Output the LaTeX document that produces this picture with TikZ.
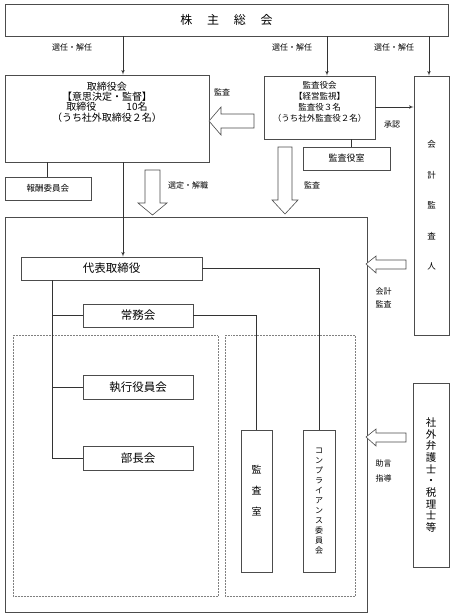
\documentclass[tikz,border=0pt]{standalone}
\usepackage{fontspec}
\setmainfont{Noto Sans CJK JP}
\usetikzlibrary{arrows}
\tikzset{
>=latex', % small filled arrow heads
box/.style={draw=black!70, line width=0.6pt, fill=white, inner sep=0pt}, % frame of each body
lbl/.style={font=\fontsize{8}{10}\selectfont, inner sep=0pt}, % small texts beside the lines
link/.style={draw=black!80, line width=0.6pt}, % lines between the bodies
hollow/.style={draw=black!70, line width=0.6pt, fill=white}, % open block arrows
area/.style={draw=black!50, line width=0.5pt, densely dotted}, % dotted groups
}

\begin{document}
\begin{tikzpicture}[x=1pt, y=-1pt]
        \useasboundingbox (0,0) rectangle (454,616);

        % frames of the company
        \draw[box] (5,217) rectangle (367,612);
        \draw[area] (13,335) rectangle (218,596);
        \draw[area] (225,335) rectangle (355,596);

        \node[box, minimum width=443, minimum height=32, font=\fontsize{12}{14}\selectfont] (soukai) at (226.5,20) {株\hspace{14.7pt}主\hspace{14.7pt}総\hspace{14.7pt}会};
        \node[box, minimum width=204, minimum height=87] (torikai) at (107,118.5) {};
        \node[align=center, inner sep=0pt, font=\fontsize{10}{10.2}\selectfont] (torikaitext) at (107,102) {取締役会\\【意思決定・監督】\\取締役\hspace{30pt}10名\\（うち社外取締役２名）};
        \node[box, minimum width=86, minimum height=23, font=\fontsize{8.5}{10}\selectfont] (housyu) at (48,188.5) {報酬委員会};
        \node[box, minimum width=111, minimum height=63] (kansakai) at (319.5,107.5) {};
        \node[align=center, inner sep=0pt, font=\fontsize{8.5}{11}\selectfont] (kansakaitext) at (319.5,101.5) {監査役会\\【経営監視】\\監査役３名\\（うち社外監査役２名）};
        \node[box, minimum width=87, minimum height=23, font=\fontsize{9}{10}\selectfont] (kansastaff) at (346.5,158.5) {監査役室};
        \node[box, minimum width=35, minimum height=259, align=center, font=\fontsize{8.5}{30.5}\selectfont] (kaikei) at (431.5,205.5) {会\\計\\監\\査\\人};
        \node[box, minimum width=36, minimum height=184, align=center, font=\fontsize{10.5}{11.7}\selectfont] (bengoshi) at (431,475) {社\\外\\弁\\護\\士\\・\\税\\理\\士\\等};

        \node[box, minimum width=181, minimum height=23, font=\fontsize{11.5}{13}\selectfont] (daihyo) at (111.5,268.5) {代表取締役};
        \node[box, minimum width=110, minimum height=23, font=\fontsize{11.5}{13}\selectfont] (joumu) at (138,315.5) {常務会};
        \node[box, minimum width=110, minimum height=24, font=\fontsize{11.5}{13}\selectfont] (shikko) at (138,387) {執行役員会};
        \node[box, minimum width=110, minimum height=24, font=\fontsize{11.5}{13}\selectfont] (bucho) at (138,458) {部長会};
        \node[box, minimum width=31, minimum height=142] (kansashitsu) at (256.5,501) {};
        \node[align=center, inner sep=0pt, font=\fontsize{10}{21}\selectfont] (kansashitsutext) at (256.5,491) {監\\査\\室};
        \node[box, minimum width=32, minimum height=142, align=center, font=\fontsize{8}{10}\selectfont] (comp) at (319,501) {コ\\ン\\プ\\ラ\\イ\\ア\\ン\\ス\\委\\員\\会};

        % where the lines leave the frames
        \coordinate (x1) at (123,0);
        \coordinate (x2) at (327,0);
        \coordinate (x3) at (429,0);
        \coordinate (x4) at (47,0);
        \coordinate (x5) at (351,0);
        \coordinate (x6) at (52,0);
        \coordinate (y1) at (0,107);

        \draw[link,->] (soukai.south -| x1) -- (torikai.north -| x1);
        \draw[link,->] (soukai.south -| x2) -- (kansakai.north -| x2);
        \draw[link,->] (soukai.south -| x3) -- (kaikei.north -| x3);
        \draw[link,->] (kansakai.east |- y1) -- (kaikei.west |- y1);
        \draw[link] (kansakai.south -| x5) -- (kansastaff.north -| x5);
        \draw[link] (torikai.south -| x4) -- (housyu.north -| x4);
        \draw[link,->] (torikai.south -| x1) -- (daihyo.north -| x1);
        \draw[link] (daihyo.east) -| (comp.north);
        \draw[link] (joumu.east) -| (kansashitsu.north);
        \draw[link] (daihyo.south -| x6) |- (bucho.west);
        \draw[link] (joumu.west -| x6) -- (joumu.west);
        \draw[link] (shikko.west -| x6) -- (shikko.west);

        % open arrows
        \draw[hollow] (209,121) -- (221,107) -- (221,114) -- (254,114) -- (254,128) -- (221,128) -- (221,135) -- cycle;
        \draw[hollow] (145,170) -- (160,170) -- (160,203) -- (167,203) -- (152.5,215) -- (138,203) -- (145,203) -- cycle;
        \draw[hollow] (278,147) -- (292,147) -- (292,200) -- (298,200) -- (285,214) -- (272,200) -- (278,200) -- cycle;
        \draw[hollow] (366,264) -- (376,256) -- (376,260) -- (406,260) -- (406,269) -- (376,269) -- (376,273) -- cycle;
        \draw[hollow] (366,437) -- (376,429) -- (376,433) -- (406,433) -- (406,442) -- (376,442) -- (376,446) -- cycle;

        \node[lbl] (sennin1) at (72,47) {選任・解任};
        \node[lbl] (sennin2) at (292,47) {選任・解任};
        \node[lbl] (sennin3) at (394,47) {選任・解任};
        \node[lbl] (kansa1) at (222,92) {監査};
        \node[lbl] (shounin) at (392,125) {承認};
        \node[lbl] (sentei) at (188,185) {選定・解職};
        \node[lbl] (kansa2) at (312,185) {監査};
        \node[lbl, align=left, font=\fontsize{8}{12.5}\selectfont] (kaikeikansa) at (383.5,298) {会計\\監査};
        \node[lbl, align=left, font=\fontsize{8}{15.5}\selectfont] (jogen) at (383.5,471) {助言\\指導};
      \end{tikzpicture}
\end{document}
